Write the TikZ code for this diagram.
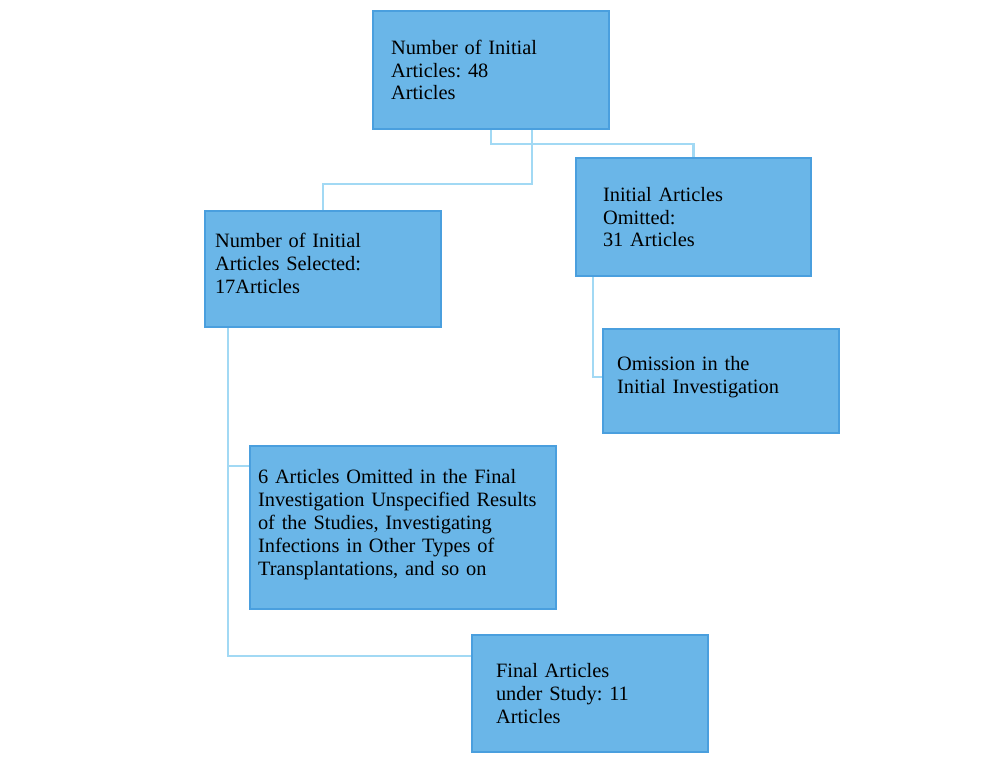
\documentclass[tikz,border=0pt]{standalone}
\usepackage{fontspec}
\setmainfont{Liberation Serif}
\usetikzlibrary{positioning, calc}
\definecolor{BoxFill}{HTML}{6AB6E8}
\definecolor{BoxEdge}{HTML}{4A9FDE}
\definecolor{LinkBlue}{HTML}{A2D9F4}
\frenchspacing
\tikzset{
    % boxes - flat blue, sharp corners
    stagebox/.style={
        rectangle,
        anchor=north west,
        draw=BoxEdge,
        fill=BoxFill,
        line width=1.2pt,
        align=left,
        inner sep=0pt,
        font=\fontsize{11.6}{13}\selectfont
    },
    % connectors - plain elbow lines
    link/.style={
        draw=LinkBlue,
        line width=1.2pt
    }
}
\begin{document}
\begin{tikzpicture}[x=0.02cm, y=-0.02cm]
    \useasboundingbox (0,0) rectangle (1000,761);

    \node[stagebox, minimum width=4.72cm, minimum height=2.36cm, text width=4cm] (initial) at (372,10)
        {Number of Initial\\Articles: 48\\Articles};
    \node[stagebox, minimum width=4.72cm, minimum height=2.32cm, text width=4.32cm] (selected) at (204,210)
        {Number of Initial\\Articles Selected:\\17Articles\\[-6.2pt]\mbox{}};
    \node[stagebox, minimum width=4.7cm, minimum height=2.36cm, text width=3.62cm] (omitted) at (575,157)
        {Initial Articles\\Omitted:\\31 Articles};
    \node[stagebox, minimum width=4.72cm, minimum height=2.08cm, text width=4.16cm] (omission) at (602,328)
        {Omission in the\\Initial Investigation\\[-5.6pt]\mbox{}};
    \node[stagebox, minimum width=6.12cm, minimum height=3.26cm, text width=5.8cm] (final6) at (249,445)
        {6 Articles Omitted in the Final\\Investigation Unspecified Results\\of the Studies, Investigating\\Infections in Other Types of\\Transplantations, and so on\\[-7.3pt]\mbox{}};
    \node[stagebox, minimum width=4.72cm, minimum height=2.34cm, text width=3.76cm] (final) at (471,634)
        {Final Articles\\under Study: 11\\Articles};

    \draw[link] (initial.south) -- ++(0,14) -| (omitted.north);
    \draw[link] ([xshift=0.82cm]initial.south) -- ++(0,54) -| (selected.north);
    \draw[link] ([xshift=0.36cm]omitted.south west) |- ([yshift=-0.98cm]omission.north west);
    \draw[link] ([xshift=0.48cm]selected.south west) |- ([yshift=-0.42cm]final6.north west);
    \draw[link] ([xshift=0.48cm]selected.south west) |- ([yshift=-0.44cm]final.north west);
\end{tikzpicture}
\end{document}
